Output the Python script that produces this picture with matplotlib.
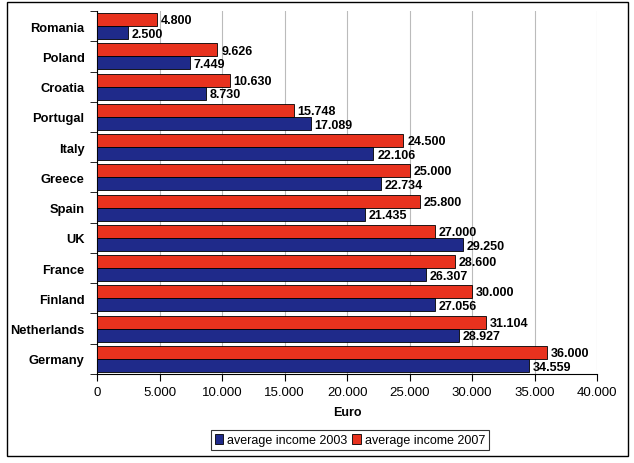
import numpy as np
import matplotlib.pyplot as plt
from matplotlib.patches import Rectangle

plt.rcParams['font.family'] = ['Liberation Sans', 'DejaVu Sans']

countries = ['Romania', 'Poland', 'Croatia', 'Portugal', 'Italy', 'Greece',
             'Spain', 'UK', 'France', 'Finland', 'Netherlands', 'Germany']
income_2003 = [2500, 7449, 8730, 17089, 22106, 22734, 21435, 29250, 26307, 27056, 28927, 34559]
income_2007 = [4800, 9626, 10630, 15748, 24500, 25000, 25800, 27000, 28600, 30000, 31104, 36000]

red = '#e8321e'
navy = '#1f2a8a'

def fmt(v):
    # thousands separator as dot
    return f"{v:,}".replace(',', '.')

fig = plt.figure(figsize=(6.34, 4.64), dpi=100)
ax = fig.add_axes([0.153, 0.192, 0.789, 0.782])

y = np.arange(len(countries))
h = 0.43
ax.barh(y - h / 2, income_2007, height=h, color=red, edgecolor='black', linewidth=0.6,
        label='average income 2007', zorder=3)
ax.barh(y + h / 2, income_2003, height=h, color=navy, edgecolor='black', linewidth=0.6,
        label='average income 2003', zorder=3)

for i in range(len(countries)):
    ax.text(income_2007[i] + 300, y[i] - h / 2 + 0.02, fmt(income_2007[i]),
            va='center', ha='left', fontsize=9, fontweight='bold', zorder=4)
    ax.text(income_2003[i] + 300, y[i] + h / 2 + 0.04, fmt(income_2003[i]),
            va='center', ha='left', fontsize=9, fontweight='bold', zorder=4)

ax.set_xlim(0, 40000)
ax.set_ylim(len(countries) - 0.5, -0.5)
ax.set_xticks(np.arange(0, 40001, 5000))
ax.set_xticklabels([fmt(v) for v in range(0, 40001, 5000)], fontsize=9.5)
ax.set_yticks(y)
ax.set_yticklabels(countries, fontsize=9.3, fontweight='bold')
ax.set_yticks(np.arange(-0.5, len(countries), 1), minor=True)
ax.tick_params(axis='y', which='major', length=0, pad=9)
ax.tick_params(axis='y', which='minor', length=5, direction='out')
ax.tick_params(axis='x', length=5, direction='out')
ax.grid(axis='x', color='#bbbbbb', linewidth=0.8, zorder=0)
ax.spines['top'].set_visible(False)
ax.spines['right'].set_visible(False)
ax.set_xlabel('Euro', fontsize=9, fontweight='bold', labelpad=6)

handles, labels = ax.get_legend_handles_labels()
leg = fig.legend(handles[::-1], labels[::-1], loc='center', bbox_to_anchor=(0.552, 0.05),
                 ncol=2, fontsize=9, frameon=True, fancybox=False, edgecolor='black',
                 handlelength=0.7, handleheight=0.9, handletextpad=0.3, columnspacing=0.4,
                 borderpad=0.3)
leg.get_frame().set_linewidth(0.8)

fig.patches.append(Rectangle((0.011, 0.015), 0.98, 0.978, transform=fig.transFigure,
                             fill=False, edgecolor='black', linewidth=1))

fig.savefig('out.png', dpi=100)
